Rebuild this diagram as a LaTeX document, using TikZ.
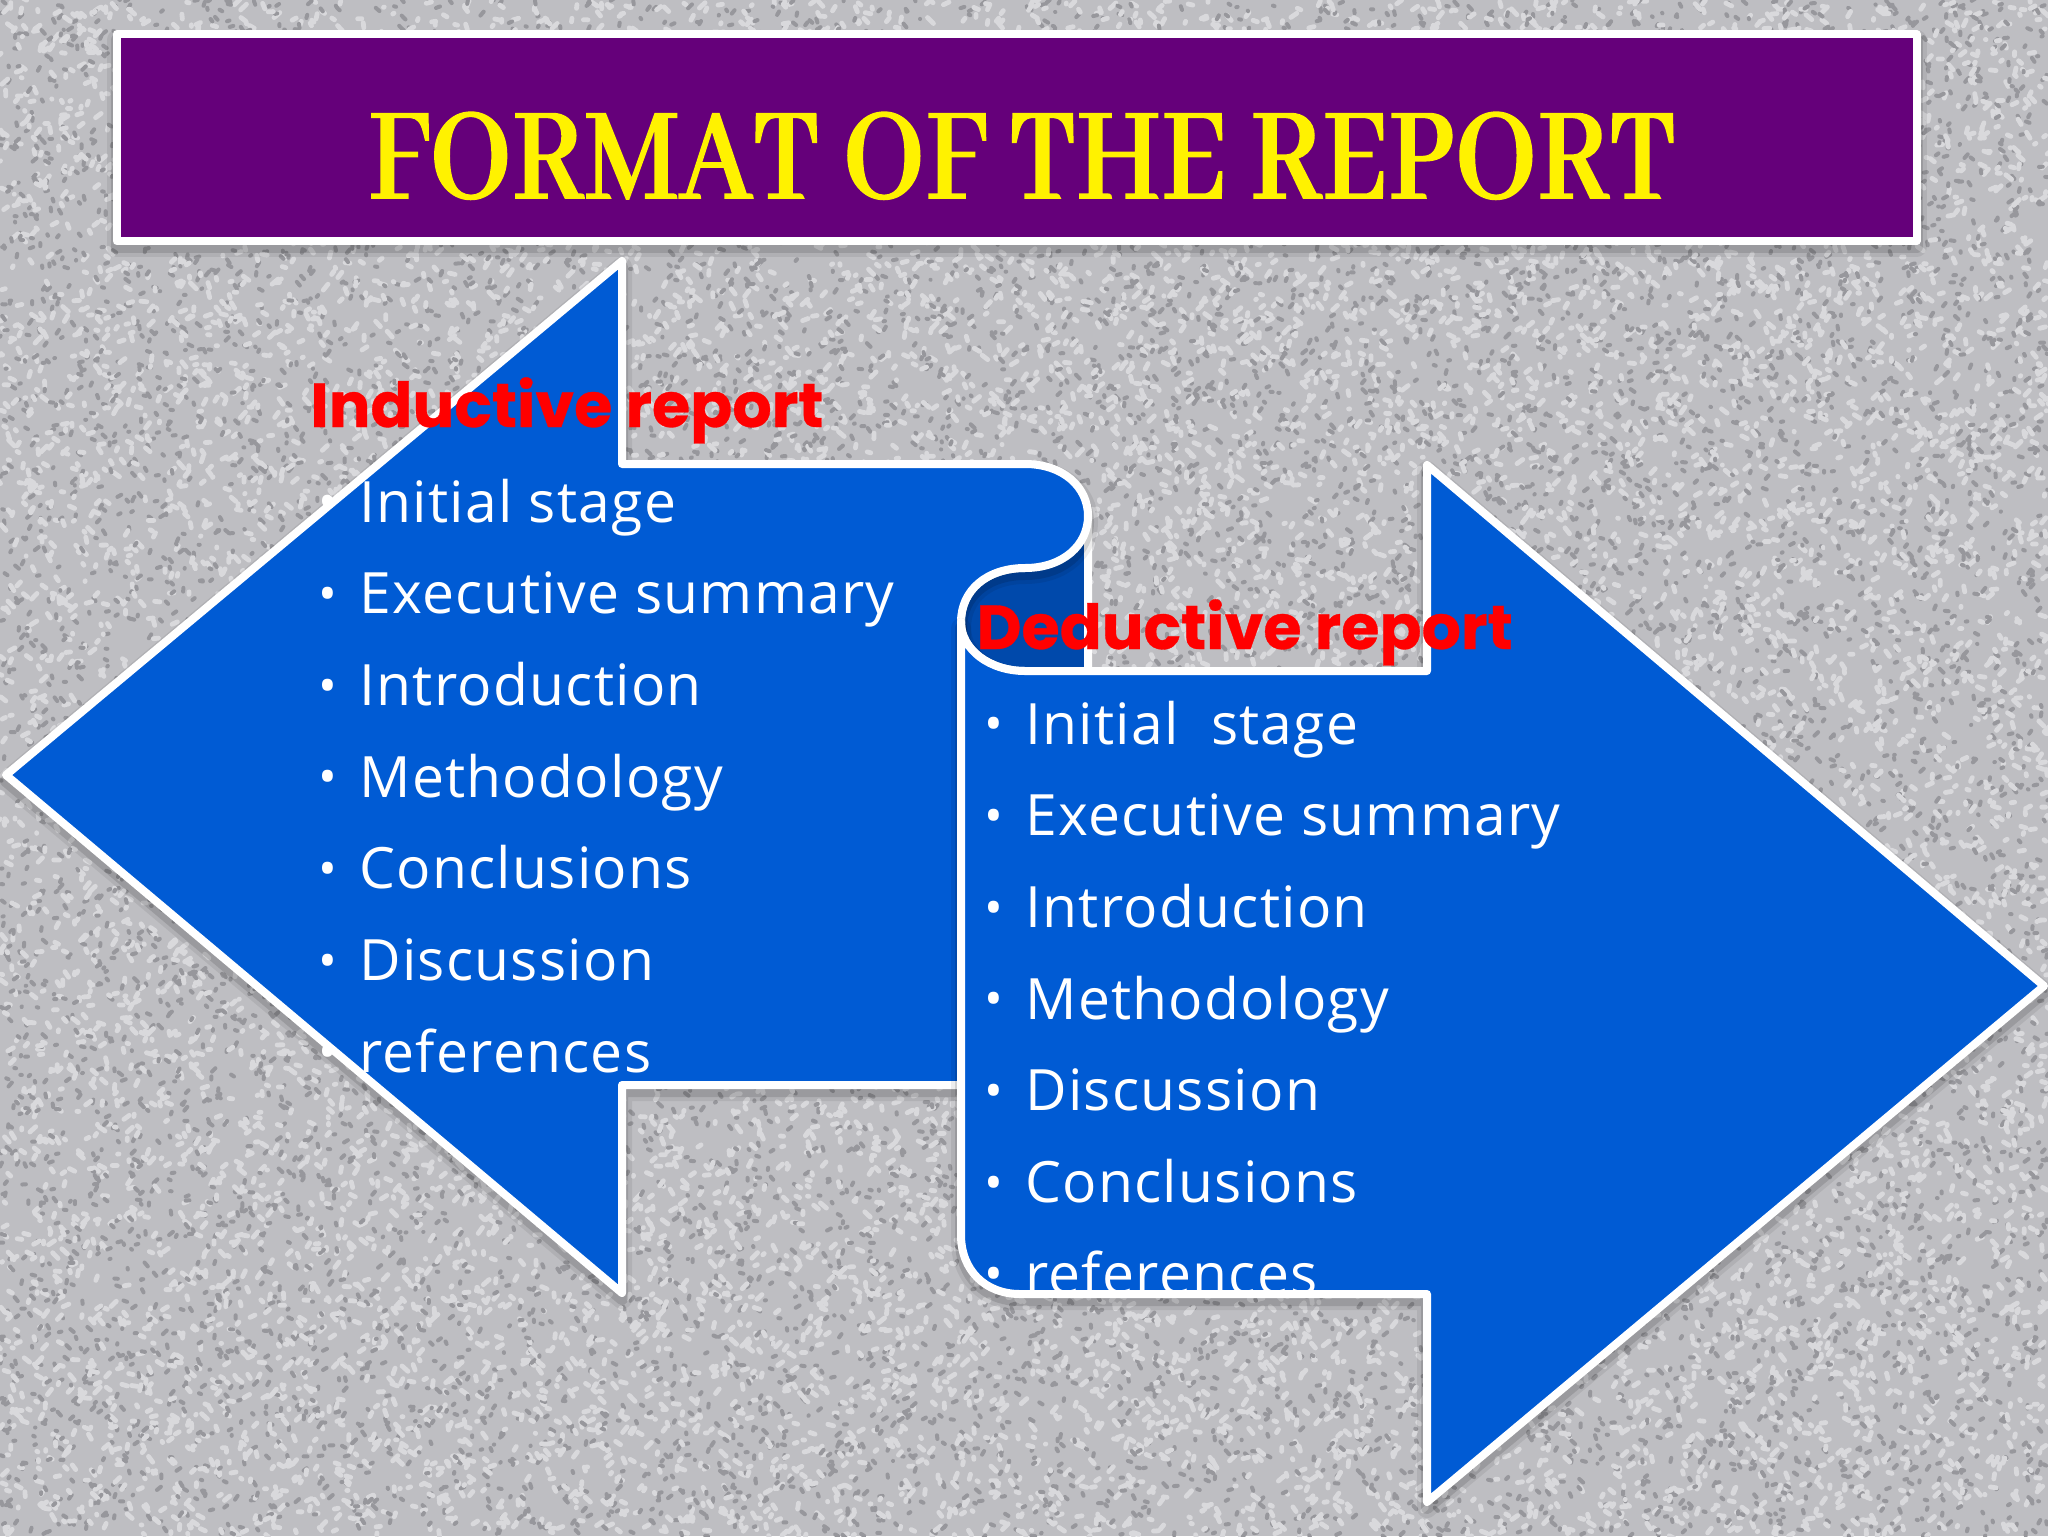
\documentclass[tikz,border=0pt]{standalone}
\usepackage{fontspec}
\usepackage{xcolor}
\usetikzlibrary{positioning}
\setmainfont[LetterSpace=2.2]{Open Sans}
\newfontfamily\titlefont[BoldFeatures={FakeBold=1.2}]{Abhaya Libre}
\newfontfamily\headfont[BoldFeatures={FakeBold=.5}]{Poppins}
\definecolor{arrowblue}{HTML}{005BD4}
\definecolor{foldblue}{HTML}{0049AB}
\definecolor{bannerpurple}{HTML}{65007A}
\definecolor{noisebase}{HTML}{BEBEC2}
\definecolor{noisedark}{HTML}{97979C}
\definecolor{noiselight}{HTML}{D9D9DC}
\newcommand{\itembullet}{\llap{\raisebox{1.2pt}{\fontsize{25}{25}\selectfont\textbullet}\hspace{11pt}}}
\tikzset{softshadow/.style = {
    preaction={draw=black, opacity=.07, line width=10pt, line join=round, transform canvas={yshift=-3pt}},
    preaction={draw=black, opacity=.12, line width=6pt, line join=round, transform canvas={yshift=-3pt}},
  },
  outline/.style = {
    draw=white, line width=4pt, line join=round,
  }
}

\begin{document}
\begin{tikzpicture}[x=.5pt, y=-.5pt]
          \useasboundingbox (0,0) rectangle (2048,1536);

          % background
          \fill[noisebase] (0,0) rectangle (2048,1536);
          \pgfmathsetseed{11}
          \begin{scope}
          \clip (0,0) rectangle (2048,1536);
          \foreach \k in {1,...,140} {
            \draw[line width=2.4pt, line cap=round, color=noiselight] \foreach \n in {1,...,110} { ({rnd*2048},{rnd*1536}) -- ++({rand*6},{rand*6}) };
            \draw[line width=2pt, line cap=round, color=noisedark] \foreach \n in {1,...,90} { ({rnd*2048},{rnd*1536}) -- ++({rand*4},{rand*4}) };
          }
          \end{scope}

          % vertices
          \tikzstyle{bannerbox} = [rectangle, outline, fill=bannerpurple, softshadow, minimum width=900pt, minimum height=103.5pt, inner sep=0pt]
          \tikzstyle{bannertext} = [anchor=base, text=yellow, inner sep=0pt, xscale=.836, font=\titlefont\bfseries\fontsize{72}{72}\selectfont]
          \tikzstyle{reporthead} = [anchor=base west, text=red, inner sep=0pt, font=\headfont\bfseries\fontsize{31}{31}\selectfont]
          \tikzstyle{reportitem} = [anchor=base west, text=white, inner sep=0pt, font=\fontsize{28.5}{28.5}\selectfont]

          \node[bannerbox] (banner) at (1016.5,137.5) {};
          \node[bannertext] (title) at (1022,198) {FORMAT OF THE REPORT};

          % fold between the two arrows
          \draw[outline, fill=foldblue] (1088,510) -- (1088,671) -- (1025,671) .. controls (990,671) and (961,650) .. (961,622) .. controls (961,590) and (987,568) .. (1025,568) -- cycle;

          % left arrow
          \draw[outline, fill=arrowblue, softshadow] (6,775) -- (622,261) -- (622,464) -- (1025,464) .. controls (1063,464) and (1088,487) .. (1088,516) .. controls (1088,545) and (1063,568) .. (1025,568) .. controls (987,568) and (961,590) .. (961,622) -- (961,1085) -- (622,1085) -- (622,1293) -- cycle;

          % right arrow
          \draw[outline, fill=arrowblue, softshadow] (961,622) .. controls (961,650) and (990,671) .. (1025,671) -- (1427,671) -- (1427,465) -- (2044,986) -- (1427,1502) -- (1427,1294) -- (1020,1294) .. controls (985,1294) and (961,1270) .. (961,1235) -- cycle;

          % left list
          \node[reporthead] (indhead) at (310,427) {Inductive report};
          \node[reportitem] (ind1) at (359,522) {\itembullet Initial stage};
          \node[reportitem, below=45.85pt of ind1.base west, anchor=base west] (ind2) {\itembullet Executive summary};
          \node[reportitem, below=45.85pt of ind2.base west, anchor=base west] (ind3) {\itembullet Introduction};
          \node[reportitem, below=45.85pt of ind3.base west, anchor=base west] (ind4) {\itembullet Methodology};
          \node[reportitem, below=45.85pt of ind4.base west, anchor=base west] (ind5) {\itembullet Conclusions};
          \node[reportitem, below=45.85pt of ind5.base west, anchor=base west] (ind6) {\itembullet Discussion};
          \node[reportitem, below=45.85pt of ind6.base west, anchor=base west] (ind7) {\itembullet references};

          % right list
          \node[reporthead] (dedhead) at (976,649) {Deductive report};
          \node[reportitem] (ded1) at (1025,744) {\itembullet Initial\ \ stage};
          \node[reportitem, below=45.85pt of ded1.base west, anchor=base west] (ded2) {\itembullet Executive summary};
          \node[reportitem, below=45.85pt of ded2.base west, anchor=base west] (ded3) {\itembullet Introduction};
          \node[reportitem, below=45.85pt of ded3.base west, anchor=base west] (ded4) {\itembullet Methodology};
          \node[reportitem, below=45.85pt of ded4.base west, anchor=base west] (ded5) {\itembullet Discussion};
          \node[reportitem, below=45.85pt of ded5.base west, anchor=base west] (ded6) {\itembullet Conclusions};
          \node[reportitem, below=45.85pt of ded6.base west, anchor=base west] (ded7) {\itembullet references};
        \end{tikzpicture}
\end{document}
